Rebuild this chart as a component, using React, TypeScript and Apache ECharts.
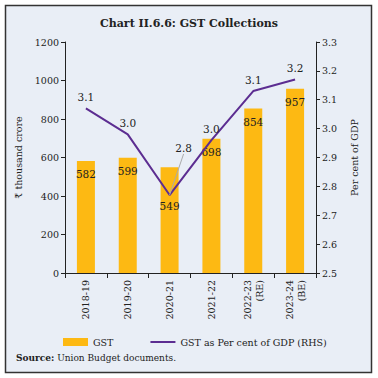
import React, { useEffect, useRef } from "react";
import * as echarts from "echarts";

const categories = ["2018-19", "2019-20", "2020-21", "2021-22", "2022-23\n(RE)", "2023-24\n(BE)"];
const gstValues = [582, 599, 549, 698, 854, 957];
const gstPctGdp = [3.07, 2.98, 2.77, 2.96, 3.13, 3.17];
const leftTicks = { min: 0, max: 1200, interval: 200 };
const rightTicks = { min: 2.5, max: 3.3, interval: 0.1 };

const FONT = "DejaVu Serif";

export default function App() {
  const ref = useRef<HTMLDivElement>(null);
  useEffect(() => {
    if (!ref.current) return;
    const chart = echarts.init(ref.current, undefined, { renderer: "svg" });
    chart.setOption({
      animation: false,
      backgroundColor: "#ffffff",
      textStyle: { fontFamily: FONT, color: "#222" },
      title: {
        text: "Chart II.6.6: GST Collections",
        left: "center",
        top: 13,
        textStyle: { fontFamily: FONT, fontSize: 11, fontWeight: "bold", color: "#222" },
      },
      graphic: [
        {
          type: "rect",
          z: -10,
          silent: true,
          shape: { x: 5.5, y: 5.5, width: 366, height: 367 },
          style: { fill: "#e9eef6", stroke: "#333", lineWidth: 1.5 },
        },
        {
          type: "text",
          left: 16,
          top: 353,
          style: {
            text: "{b|Source:} Union Budget documents.",
            rich: {
              b: { fontFamily: FONT, fontSize: 9, fontWeight: "bold", fill: "#222" },
            },
            fontFamily: FONT,
            fontSize: 9,
            fill: "#222",
          },
        },
      ],
      grid: { left: 65, right: 62, top: 42, bottom: 105 },
      legend: {
        left: 58,
        top: 332,
        itemGap: 36,
        itemWidth: 25,
        itemHeight: 8,
        textStyle: { fontFamily: FONT, fontSize: 9.5, color: "#222" },
        data: [
          { name: "GST", icon: "rect" },
          { name: "GST as Per cent of GDP (RHS)", itemStyle: { opacity: 0 } },
        ],
      },
      xAxis: {
        type: "category",
        data: categories,
        axisLine: { lineStyle: { color: "#222", width: 1 } },
        axisTick: { show: true, length: 5, lineStyle: { color: "#222" } },
        axisLabel: { rotate: 90, fontFamily: FONT, fontSize: 9.5, color: "#222", margin: 7, lineHeight: 12 },
      },
      yAxis: [
        {
          type: "value",
          ...leftTicks,
          name: "₹ thousand crore",
          nameLocation: "middle",
          nameGap: 30,
          nameTextStyle: { fontFamily: FONT, fontSize: 9.5, color: "#222" },
          axisLine: { show: true, lineStyle: { color: "#222" } },
          axisTick: { show: true, length: 4, lineStyle: { color: "#222" } },
          axisLabel: {
            fontFamily: FONT,
            fontSize: 9.5,
            color: "#222",
            margin: 6,
            formatter: (v: number) => String(v),
          },
          splitLine: { show: false },
        },
        {
          type: "value",
          ...rightTicks,
          position: "right",
          name: "Per cent of GDP",
          nameLocation: "middle",
          nameGap: 33,
          nameTextStyle: { fontFamily: FONT, fontSize: 9.5, color: "#222" },
          axisLine: { show: true, lineStyle: { color: "#222" } },
          axisTick: { show: true, length: 4, lineStyle: { color: "#222" } },
          axisLabel: {
            fontFamily: FONT,
            fontSize: 9.5,
            color: "#222",
            margin: 6,
            formatter: (v: number) => v.toFixed(1),
          },
          splitLine: { show: false },
        },
      ],
      series: [
        {
          name: "GST",
          type: "bar",
          barWidth: 18,
          yAxisIndex: 0,
          itemStyle: { color: "#fdb913" },
          label: {
            show: true,
            position: "insideTop",
            distance: 8,
            fontFamily: FONT,
            fontSize: 10.5,
            color: "#222",
          },
          data: gstValues.map((v, i) =>
            i === 2 ? { value: v, label: { distance: 33 } } : v
          ),
        },
        {
          name: "GST as Per cent of GDP (RHS)",
          type: "line",
          yAxisIndex: 1,
          symbol: "circle",
          symbolSize: 0.1,
          showSymbol: true,
          lineStyle: { color: "#5c2d91", width: 2 },
          itemStyle: { color: "#5c2d91" },
          label: {
            show: true,
            position: "top",
            distance: 6,
            fontFamily: FONT,
            fontSize: 10.5,
            color: "#222",
            formatter: (p: any) => Number(p.value).toFixed(1),
          },
          labelLayout: (p: any) => (p.dataIndex === 2 ? { dx: 14, dy: -35 } : {}),
          data: gstPctGdp.map((v, i) =>
            i === 2
              ? { value: v, labelLine: { show: true, lineStyle: { color: "#aaaaaa", width: 1 } } }
              : v
          ),
        },
      ],
    });
    return () => chart.dispose();
  }, []);
  return (
    <div
      ref={ref}
      style={{ position: "fixed", left: 0, top: 0, width: 378, height: 378 }}
    />
  );
}
